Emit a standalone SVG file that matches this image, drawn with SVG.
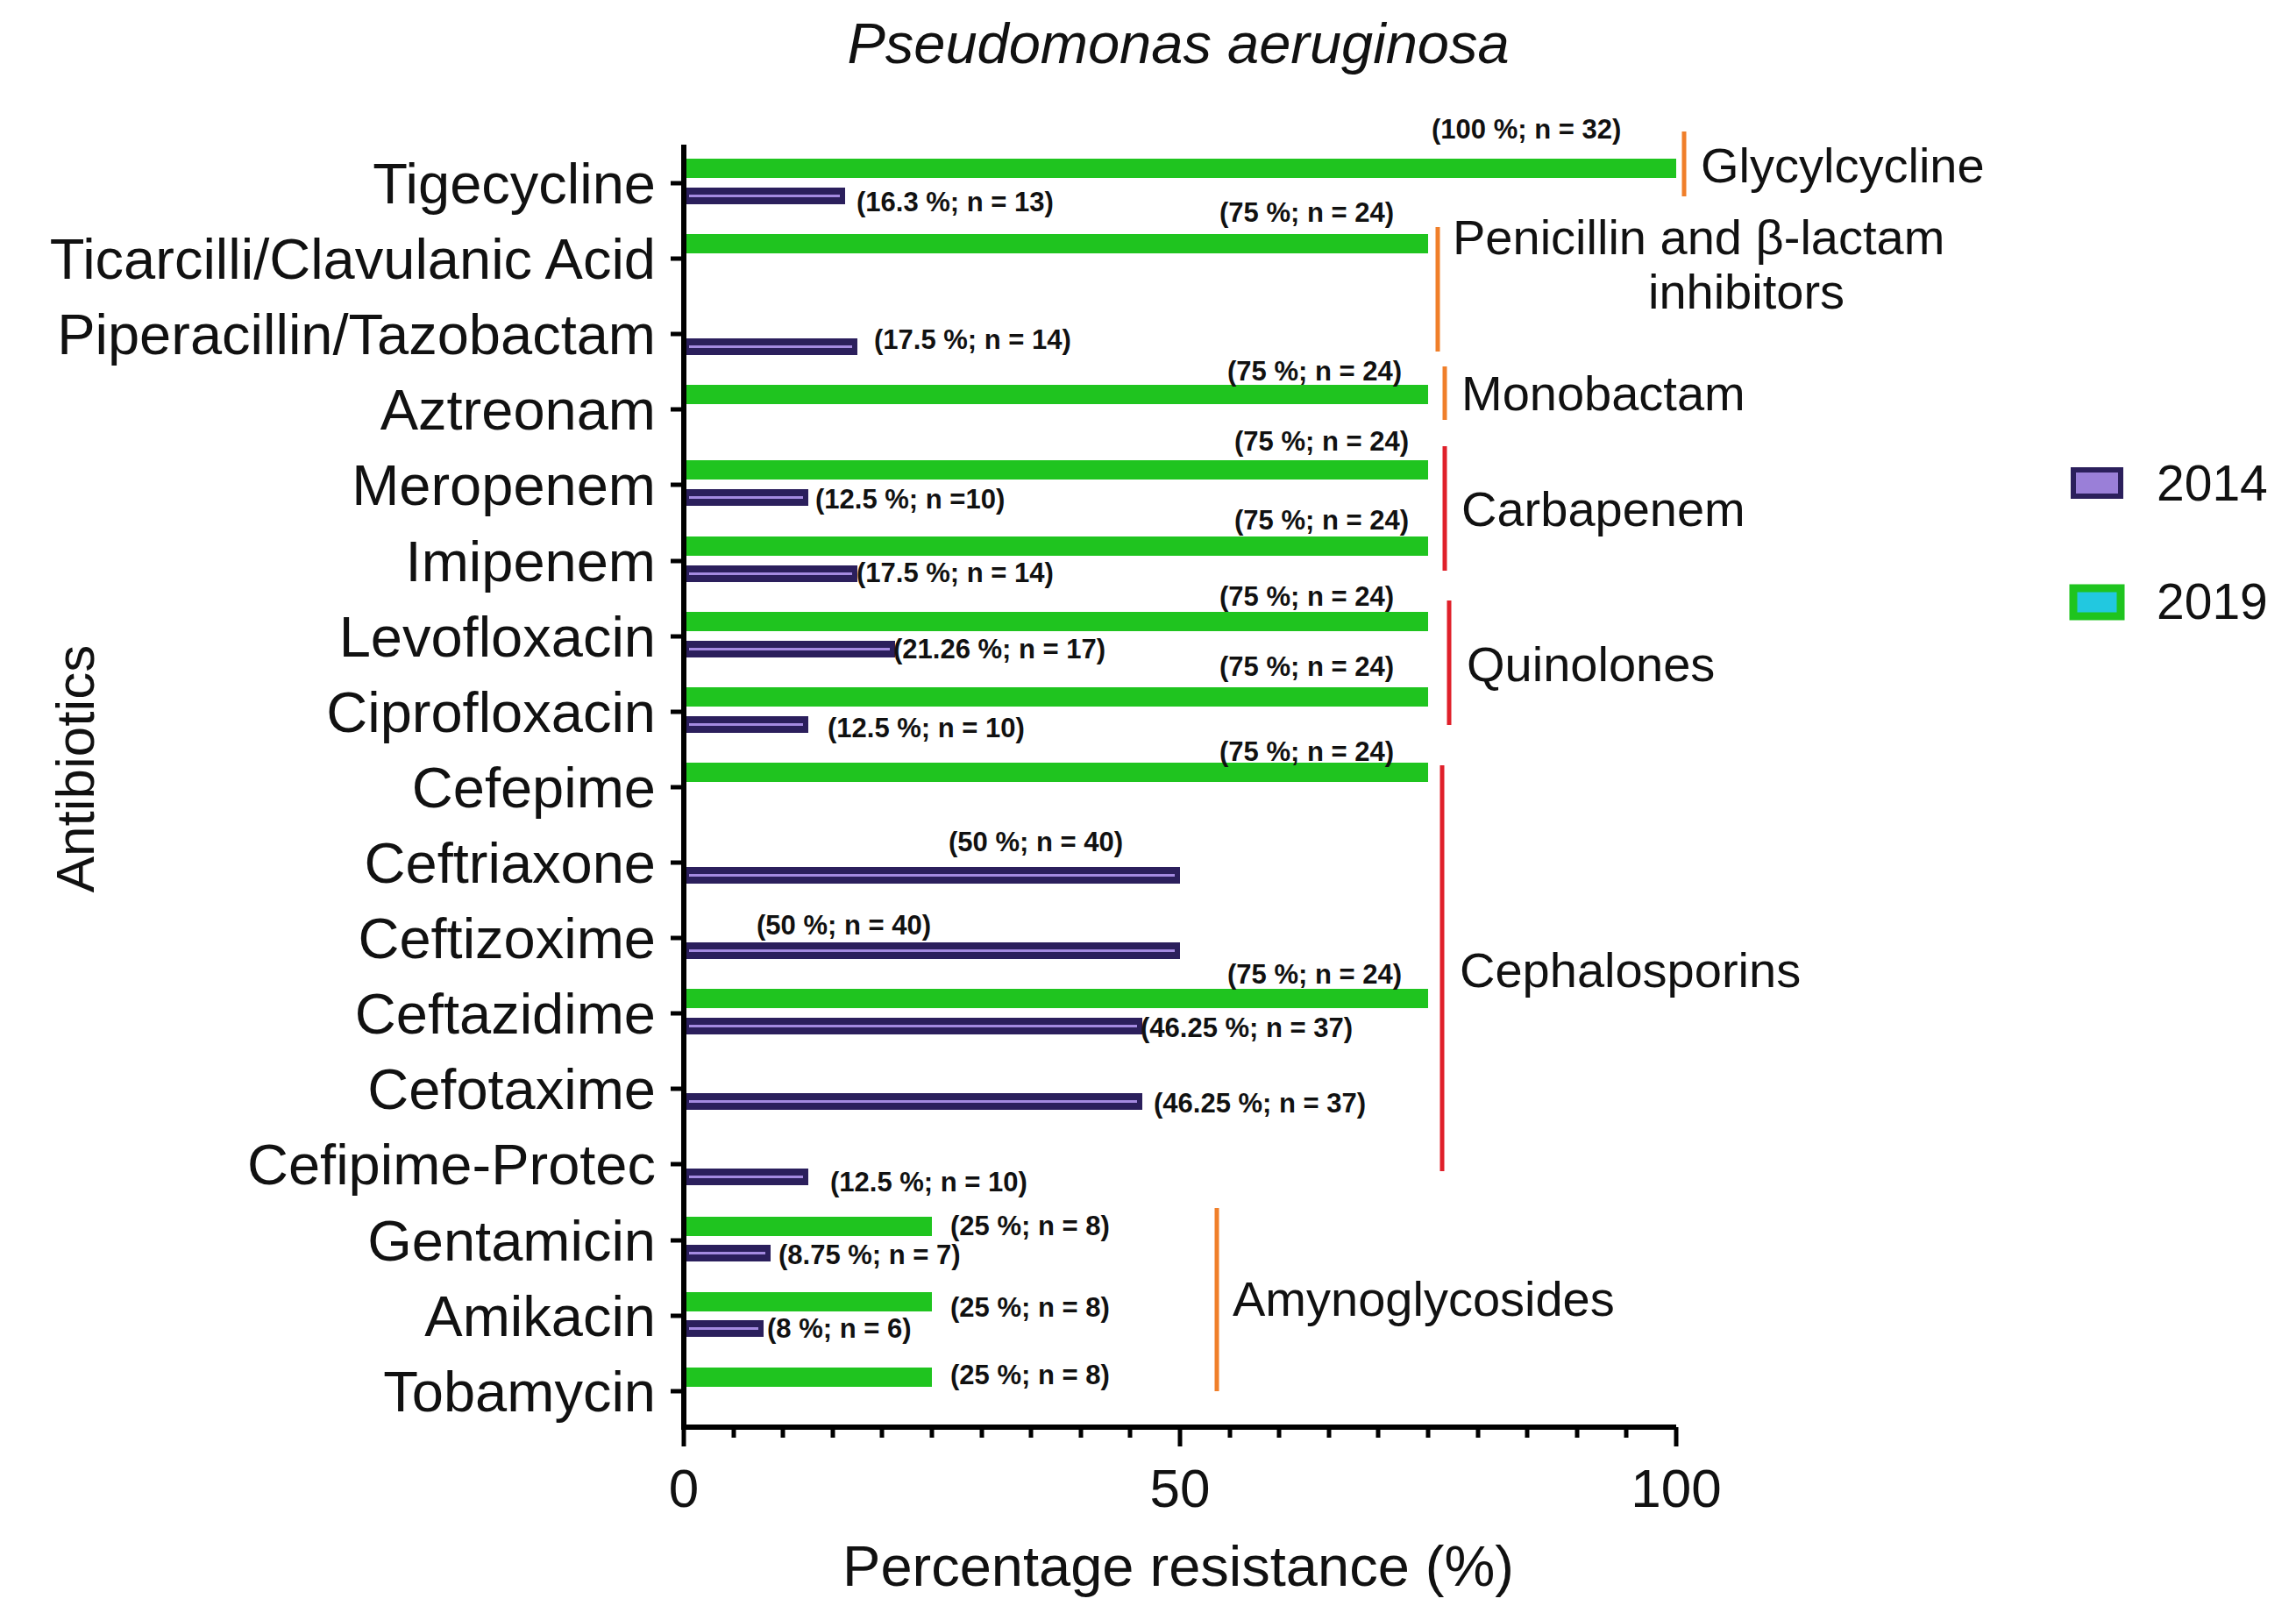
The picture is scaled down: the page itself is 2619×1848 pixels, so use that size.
<svg xmlns="http://www.w3.org/2000/svg" width="2619" height="1848" viewBox="0 0 2619 1848">
<style>
text{font-family:"Liberation Sans",Arial,sans-serif;fill:#111}
.cat{font-size:65px;text-anchor:end}
.val{font-size:31px;font-weight:bold}
.grp{font-size:56px}
.g{fill:#1fc41f}
.p{fill:#2b1f5c}
.pi{fill:#a48ae0}
.ax{stroke:#000;stroke-width:6;fill:none}
.tk{stroke:#000;stroke-width:5}
.or{stroke:#f07f2a;stroke-width:5}
.rd{stroke:#e0202a;stroke-width:5}
</style>
<rect width="2619" height="1848" fill="#fff"/>
<text x="1344" y="72" font-size="65" font-style="italic" text-anchor="middle">Pseudomonas aeruginosa</text>
<text transform="translate(107,877) rotate(-90)" font-size="62" text-anchor="middle">Antibiotics</text>
<text x="1344" y="1809" font-size="65" text-anchor="middle">Percentage resistance (%)</text>

<g id="axes">
<path class="ax" d="M780,165 V1628 H1912"/>
<g class="tk">
<line x1="765" y1="209" x2="780" y2="209"/><line x1="765" y1="295" x2="780" y2="295"/><line x1="765" y1="381" x2="780" y2="381"/><line x1="765" y1="467" x2="780" y2="467"/><line x1="765" y1="553" x2="780" y2="553"/><line x1="765" y1="640" x2="780" y2="640"/><line x1="765" y1="726" x2="780" y2="726"/><line x1="765" y1="812" x2="780" y2="812"/><line x1="765" y1="898" x2="780" y2="898"/><line x1="765" y1="984" x2="780" y2="984"/><line x1="765" y1="1070" x2="780" y2="1070"/><line x1="765" y1="1156" x2="780" y2="1156"/><line x1="765" y1="1242" x2="780" y2="1242"/><line x1="765" y1="1328" x2="780" y2="1328"/><line x1="765" y1="1415" x2="780" y2="1415"/><line x1="765" y1="1501" x2="780" y2="1501"/><line x1="765" y1="1587" x2="780" y2="1587"/>
<line x1="780" y1="1628" x2="780" y2="1650"/><line x1="1346" y1="1628" x2="1346" y2="1650"/><line x1="1912" y1="1628" x2="1912" y2="1650"/>
<path d="M837,1628v12M893,1628v12M950,1628v12M1006,1628v12M1063,1628v12M1120,1628v12M1176,1628v12M1233,1628v12M1289,1628v12M1403,1628v12M1459,1628v12M1516,1628v12M1572,1628v12M1629,1628v12M1686,1628v12M1742,1628v12M1799,1628v12M1855,1628v12"/>
</g>
<text x="780" y="1719" font-size="62" text-anchor="middle">0</text>
<text x="1346" y="1719" font-size="62" text-anchor="middle">50</text>
<text x="1912" y="1719" font-size="62" text-anchor="middle">100</text>
</g>

<g id="categories">
<text class="cat" x="748" y="232">Tigecycline</text>
<text class="cat" x="748" y="318">Ticarcilli/Clavulanic Acid</text>
<text class="cat" x="748" y="404">Piperacillin/Tazobactam</text>
<text class="cat" x="748" y="490">Aztreonam</text>
<text class="cat" x="748" y="576">Meropenem</text>
<text class="cat" x="748" y="663">Imipenem</text>
<text class="cat" x="748" y="749">Levofloxacin</text>
<text class="cat" x="748" y="835">Ciprofloxacin</text>
<text class="cat" x="748" y="921">Cefepime</text>
<text class="cat" x="748" y="1007">Ceftriaxone</text>
<text class="cat" x="748" y="1093">Ceftizoxime</text>
<text class="cat" x="748" y="1179">Ceftazidime</text>
<text class="cat" x="748" y="1265">Cefotaxime</text>
<text class="cat" x="748" y="1351">Cefipime-Protec</text>
<text class="cat" x="748" y="1438">Gentamicin</text>
<text class="cat" x="748" y="1524">Amikacin</text>
<text class="cat" x="748" y="1610">Tobamycin</text>
</g>

<g id="bars2019">
<rect class="g" x="783" y="181" width="1129" height="22"/>
<rect class="g" x="783" y="267" width="846" height="22"/>
<rect class="g" x="783" y="439" width="846" height="22"/>
<rect class="g" x="783" y="525" width="846" height="22"/>
<rect class="g" x="783" y="612" width="846" height="22"/>
<rect class="g" x="783" y="698" width="846" height="22"/>
<rect class="g" x="783" y="784" width="846" height="22"/>
<rect class="g" x="783" y="870" width="846" height="22"/>
<rect class="g" x="783" y="1128" width="846" height="22"/>
<rect class="g" x="783" y="1388" width="280" height="22"/>
<rect class="g" x="783" y="1474" width="280" height="22"/>
<rect class="g" x="783" y="1560" width="280" height="22"/>
</g>

<g id="bars2014">
<g transform="translate(783,214)"><rect class="p" width="181" height="19"/><rect class="pi" x="3" y="8" width="172" height="3"/></g>
<g transform="translate(783,386)"><rect class="p" width="195" height="19"/><rect class="pi" x="3" y="8" width="186" height="3"/></g>
<g transform="translate(783,558)"><rect class="p" width="139" height="19"/><rect class="pi" x="3" y="8" width="130" height="3"/></g>
<g transform="translate(783,645)"><rect class="p" width="195" height="19"/><rect class="pi" x="3" y="8" width="186" height="3"/></g>
<g transform="translate(783,731)"><rect class="p" width="238" height="19"/><rect class="pi" x="3" y="8" width="229" height="3"/></g>
<g transform="translate(783,817)"><rect class="p" width="139" height="19"/><rect class="pi" x="3" y="8" width="130" height="3"/></g>
<g transform="translate(783,989)"><rect class="p" width="563" height="19"/><rect class="pi" x="3" y="8" width="554" height="3"/></g>
<g transform="translate(783,1075)"><rect class="p" width="563" height="19"/><rect class="pi" x="3" y="8" width="554" height="3"/></g>
<g transform="translate(783,1161)"><rect class="p" width="520" height="19"/><rect class="pi" x="3" y="8" width="511" height="3"/></g>
<g transform="translate(783,1247)"><rect class="p" width="520" height="19"/><rect class="pi" x="3" y="8" width="511" height="3"/></g>
<g transform="translate(783,1333)"><rect class="p" width="139" height="19"/><rect class="pi" x="3" y="8" width="130" height="3"/></g>
<g transform="translate(783,1420)"><rect class="p" width="96" height="19"/><rect class="pi" x="3" y="8" width="87" height="3"/></g>
<g transform="translate(783,1506)"><rect class="p" width="88" height="19"/><rect class="pi" x="3" y="8" width="79" height="3"/></g>
</g>

<g id="value-labels">
<text class="val" x="1633" y="158">(100 %; n = 32)</text>
<text class="val" x="977" y="241">(16.3 %; n = 13)</text>
<text class="val" x="1391" y="253">(75 %; n = 24)</text>
<text class="val" x="997" y="398">(17.5 %; n = 14)</text>
<text class="val" x="1400" y="434">(75 %; n = 24)</text>
<text class="val" x="1408" y="514">(75 %; n = 24)</text>
<text class="val" x="930" y="580">(12.5 %; n =10)</text>
<text class="val" x="1408" y="604">(75 %; n = 24)</text>
<text class="val" x="977" y="664">(17.5 %; n = 14)</text>
<text class="val" x="1391" y="691">(75 %; n = 24)</text>
<text class="val" x="1019" y="751">(21.26 %; n = 17)</text>
<text class="val" x="1391" y="771">(75 %; n = 24)</text>
<text class="val" x="944" y="841">(12.5 %; n = 10)</text>
<text class="val" x="1391" y="868">(75 %; n = 24)</text>
<text class="val" x="1082" y="971">(50 %; n = 40)</text>
<text class="val" x="863" y="1066">(50 %; n = 40)</text>
<text class="val" x="1400" y="1122">(75 %; n = 24)</text>
<text class="val" x="1301" y="1183">(46.25 %; n = 37)</text>
<text class="val" x="1316" y="1269">(46.25 %; n = 37)</text>
<text class="val" x="947" y="1359">(12.5 %; n = 10)</text>
<text class="val" x="1084" y="1409">(25 %; n = 8)</text>
<text class="val" x="888" y="1442">(8.75 %; n = 7)</text>
<text class="val" x="1084" y="1502">(25 %; n = 8)</text>
<text class="val" x="875" y="1526">(8 %; n = 6)</text>
<text class="val" x="1084" y="1579">(25 %; n = 8)</text>
</g>

<g id="groups">
<line class="or" x1="1921" y1="150" x2="1921" y2="224"/>
<text class="grp" x="1940" y="208">Glycylcycline</text>
<line class="or" x1="1640" y1="259" x2="1640" y2="401"/>
<text class="grp" x="1657" y="290">Penicillin and β-lactam</text>
<text class="grp" x="1992" y="352" text-anchor="middle">inhibitors</text>
<line class="or" x1="1648" y1="418" x2="1648" y2="479"/>
<text class="grp" x="1667" y="468">Monobactam</text>
<line class="rd" x1="1648" y1="509" x2="1648" y2="651"/>
<text class="grp" x="1667" y="600">Carbapenem</text>
<line class="rd" x1="1653" y1="685" x2="1653" y2="827"/>
<text class="grp" x="1673" y="777">Quinolones</text>
<line class="rd" x1="1645" y1="873" x2="1645" y2="1336"/>
<text class="grp" x="1665" y="1126">Cephalosporins</text>
<line class="or" x1="1388" y1="1378" x2="1388" y2="1587"/>
<text class="grp" x="1406" y="1501">Amynoglycosides</text>
</g>

<g id="legend">
<rect x="2365" y="536" width="54" height="30" fill="#9a7fd8" stroke="#2b1f5c" stroke-width="6"/>
<text x="2460" y="571" font-size="57">2014</text>
<rect x="2365" y="671" width="54" height="32" fill="#22c8e0" stroke="#1fc41f" stroke-width="9"/>
<text x="2460" y="706" font-size="57">2019</text>
</g>
</svg>
